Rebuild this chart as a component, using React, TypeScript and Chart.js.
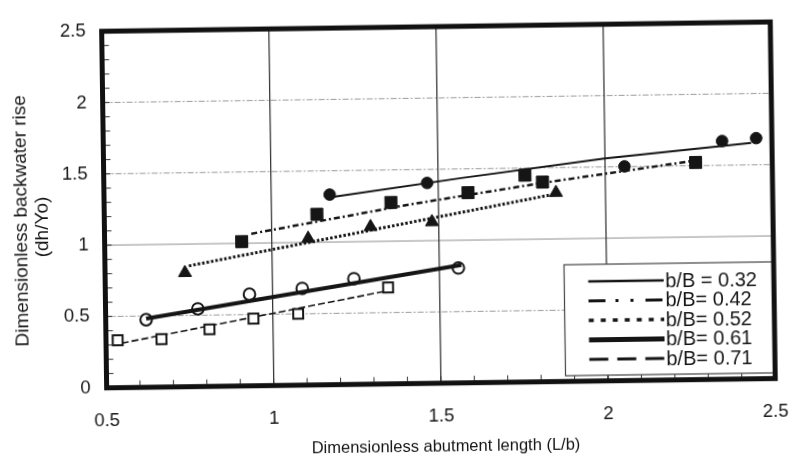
import React, { useEffect, useRef } from 'react';
import { Chart, registerables } from 'chart.js';

Chart.register(...registerables);

// ---- axis ticks & titles ----
const xTickValues = [0.5, 1, 1.5, 2, 2.5];
const xTickLabels = ['0.5', '1', '1.5', '2', '2.5'];
const yTickValues = [0, 0.5, 1, 1.5, 2, 2.5];
const yTickLabels = ['0', '0.5', '1', '1.5', '2', '2.5'];
const xGridValues = [1, 1.5, 2];
const yGridValues = [0.5, 1, 1.5, 2];
const xAxisTitle = 'Dimensionless abutment length (L/b)';
const yAxisTitle = ['Dimensionless backwater rise', '(dh/Yo)'];
const seriesLabels = ['b/B = 0.32', 'b/B= 0.42', 'b/B= 0.52', 'b/B= 0.61', 'b/B= 0.71'];

// ---- b/B = 0.32 (filled circles, solid line) ----
const x032 = [1.175, 1.467, 2.058, 2.351, 2.453];
const y032 = [1.333, 1.405, 1.502, 1.67, 1.687];
const fitX032 = [1.189, 1.569, 2.0, 2.438];
const fitY032 = [1.318, 1.436, 1.559, 1.654];

// ---- b/B = 0.42 (filled squares, dash-dot line) ----
const x042 = [0.91, 1.136, 1.358, 1.589, 1.76, 1.812, 2.271];
const y042 = [1.012, 1.196, 1.272, 1.333, 1.45, 1.4, 1.522];
const fitX042 = [0.939, 1.414, 1.812, 2.271];
const fitY042 = [1.066, 1.256, 1.394, 1.536];

// ---- b/B = 0.52 (filled triangles, dotted line) ----
const x052 = [0.739, 1.109, 1.296, 1.48, 1.852];
const y052 = [0.799, 1.027, 1.103, 1.131, 1.324];
const fitX052 = [0.751, 1.84];
const fitY052 = [0.847, 1.311];

// ---- b/B = 0.61 (open circles, thick solid line) ----
const x061 = [0.621, 0.776, 0.931, 1.089, 1.244, 1.557];
const y061 = [0.474, 0.545, 0.642, 0.678, 0.741, 0.806];
const fitX061 = [0.621, 1.566];
const fitY061 = [0.481, 0.827];

// ---- b/B = 0.71 (open squares, dashed line) ----
const x071 = [0.535, 0.666, 0.81, 0.942, 1.076, 1.346];
const y071 = [0.333, 0.336, 0.4, 0.471, 0.5, 0.676];
const fitX071 = [0.547, 1.337];
const fitY071 = [0.312, 0.65];

const FONT = '"Liberation Sans", Arial, Helvetica, sans-serif';
const INK = '#151515';

const seriesStyles = [
  { marker: 'circle', radius: 5.8, fill: INK, border: 1, lineWidth: 2, dash: [] as number[], legendDash: [] as number[], legendWidth: 2.5, lineOnTop: false },
  { marker: 'rect', radius: 8.5, fill: INK, border: 1, lineWidth: 2.5, dash: [6, 3, 2, 3], legendDash: [17, 10, 3, 12, 3, 12], legendWidth: 3, lineOnTop: false },
  { marker: 'triangle', radius: 7.5, fill: INK, border: 1, lineWidth: 3, dash: [2.5, 2], legendDash: [5, 7], legendWidth: 3.5, lineOnTop: false },
  { marker: 'circle', radius: 5.8, fill: '#fff', border: 2, lineWidth: 4, dash: [] as number[], legendDash: [] as number[], legendWidth: 5, lineOnTop: true },
  { marker: 'rect', radius: 7, fill: '#fff', border: 2, lineWidth: 1.6, dash: [7, 3], legendDash: [19, 9], legendWidth: 3, lineOnTop: false },
];

const seriesPoints = [
  [x032, y032, fitX032, fitY032],
  [x042, y042, fitX042, fitY042],
  [x052, y052, fitX052, fitY052],
  [x061, y061, fitX061, fitY061],
  [x071, y071, fitX071, fitY071],
];

const toXY = (xs: number[], ys: number[]) => xs.map((v, i) => ({ x: v, y: ys[i] }));

function buildDatasets() {
  const ds: any[] = [];
  seriesPoints.forEach(([xs, ys, fx, fy], i) => {
    const st = seriesStyles[i];
    ds.push({
      label: seriesLabels[i] + ' fit',
      data: toXY(fx, fy),
      showLine: true,
      borderColor: INK,
      borderWidth: st.lineWidth,
      borderDash: st.dash,
      pointRadius: 0,
      fill: false,
      tension: 0,
      order: st.lineOnTop ? -1 : 2,
    });
    ds.push({
      label: seriesLabels[i],
      data: toXY(xs, ys),
      showLine: false,
      pointStyle: st.marker,
      pointRadius: st.radius,
      pointBackgroundColor: st.fill,
      pointBorderColor: INK,
      pointBorderWidth: st.border,
      order: 0,
    });
  });
  return ds;
}

const decorPlugin = {
  id: 'decor',
  beforeDatasetsDraw(chart: any) {
    const { ctx, chartArea: a, scales } = chart;
    const xs = scales.x;
    const ys = scales.y;
    ctx.save();
    yGridValues.forEach((v) => {
      const py = ys.getPixelForValue(v);
      ctx.beginPath();
      ctx.strokeStyle = v === 1 ? '#909090' : '#9a9a9a';
      ctx.lineWidth = 1;
      ctx.setLineDash(v === 1 ? [] : [6, 2, 2, 2]);
      ctx.moveTo(a.left, py);
      ctx.lineTo(a.right, py);
      ctx.stroke();
    });
    ctx.setLineDash([]);
    xGridValues.forEach((v) => {
      const px = xs.getPixelForValue(v);
      ctx.beginPath();
      ctx.strokeStyle = '#2a2a2a';
      ctx.lineWidth = 1.2;
      ctx.moveTo(px, a.top);
      ctx.lineTo(px, a.bottom);
      ctx.stroke();
    });
    ctx.restore();
  },
  afterDatasetsDraw(chart: any) {
    const { ctx, chartArea: a, scales } = chart;
    const xs = scales.x;
    const ys = scales.y;
    ctx.save();
    ctx.strokeStyle = '#333';
    ctx.lineWidth = 1;
    ctx.setLineDash([]);
    for (let i = 1; i < 20; i++) {
      const px = xs.getPixelForValue(0.5 + i * 0.1);
      ctx.beginPath();
      ctx.moveTo(px, a.bottom - 2);
      ctx.lineTo(px, a.bottom - 7);
      ctx.stroke();
    }
    for (let i = 1; i < 25; i++) {
      const py = ys.getPixelForValue(i * 0.1);
      ctx.beginPath();
      ctx.moveTo(a.left + 2, py);
      ctx.lineTo(a.left + 7, py);
      ctx.stroke();
    }
    const lg = { left: 563.5, top: 267, right: a.right, bottom: 378 };
    ctx.fillStyle = '#fff';
    ctx.fillRect(lg.left, lg.top, lg.right - lg.left, lg.bottom - lg.top);
    ctx.strokeStyle = '#444';
    ctx.lineWidth = 1.2;
    ctx.strokeRect(lg.left, lg.top, lg.right - lg.left, lg.bottom - lg.top);
    ctx.font = `20px ${FONT}`;
    ctx.textAlign = 'left';
    ctx.textBaseline = 'middle';
    seriesLabels.forEach((lab, i) => {
      const st = seriesStyles[i];
      const ry = lg.top + 17 + i * 19.5;
      ctx.beginPath();
      ctx.strokeStyle = INK;
      ctx.lineWidth = st.legendWidth;
      ctx.setLineDash(st.legendDash);
      ctx.moveTo(587.5, ry);
      ctx.lineTo(663, ry);
      ctx.stroke();
      ctx.setLineDash([]);
      ctx.fillStyle = INK;
      ctx.fillText(lab, 664.5, ry + 1);
    });
    ctx.strokeStyle = '#111';
    ctx.lineWidth = 5;
    ctx.setLineDash([]);
    ctx.strokeRect(a.left, a.top, a.right - a.left, a.bottom - a.top);
    ctx.restore();
  },
  afterDraw(chart: any) {
    const { ctx } = chart;
    ctx.save();
    ctx.fillStyle = INK;
    ctx.textAlign = 'center';
    ctx.textBaseline = 'middle';
    ctx.font = `16.5px ${FONT}`;
    ctx.fillText(xAxisTitle, 443, 447.5);
    ctx.font = `19px ${FONT}`;
    const yPos = [
      [21.7, 215.5],
      [43.1, 222],
    ];
    yAxisTitle.forEach((t, i) => {
      ctx.save();
      ctx.translate(yPos[i][0], yPos[i][1]);
      ctx.rotate(-Math.PI / 2);
      ctx.fillText(t, 0, 0);
      ctx.restore();
    });
    ctx.restore();
  },
};

export default function App() {
  const ref = useRef<HTMLCanvasElement | null>(null);
  useEffect(() => {
    if (!ref.current) return;
    const chart = new Chart(ref.current, {
      type: 'scatter',
      data: { datasets: buildDatasets() },
      options: {
        responsive: false,
        animation: false,
        devicePixelRatio: 1,
        layout: { padding: { top: 18.5, right: 18.5, left: 0, bottom: 0 } },
        plugins: { legend: { display: false }, tooltip: { enabled: false } },
        scales: {
          x: {
            type: 'linear',
            min: 0.5,
            max: 2.5,
            afterBuildTicks: (s: any) => {
              s.ticks = xTickValues.map((v) => ({ value: v }));
            },
            afterFit: (s: any) => {
              s.height = 79.3;
            },
            grid: { display: false, drawTicks: false },
            border: { display: false },
            ticks: {
              padding: 22,
              maxRotation: 0,
              autoSkip: false,
              color: INK,
              font: { family: FONT, size: 18.5 },
              callback: (v: any) => {
                const i = xTickValues.indexOf(Number(v));
                return i >= 0 ? xTickLabels[i] : '';
              },
            },
          },
          y: {
            type: 'linear',
            min: 0,
            max: 2.5,
            afterBuildTicks: (s: any) => {
              s.ticks = yTickValues.map((v) => ({ value: v }));
            },
            afterFit: (s: any) => {
              s.width = 104.5;
            },
            grid: { display: false, drawTicks: false },
            border: { display: false },
            ticks: {
              padding: 16,
              autoSkip: false,
              color: INK,
              font: { family: FONT, size: 18.5 },
              callback: (v: any) => {
                const i = yTickValues.indexOf(Number(v));
                return i >= 0 ? yTickLabels[i] : '';
              },
            },
          },
        },
      },
      plugins: [decorPlugin],
    } as any);
    return () => chart.destroy();
  }, []);
  return (
    <div
      style={{
        position: 'absolute',
        left: 0,
        top: 0,
        width: 808,
        height: 463,
        background: '#fff',
        transform: 'rotate(-0.8deg)',
        transformOrigin: '404px 231.5px',
      }}
    >
      <canvas ref={ref} width={808} height={463} style={{ width: 808, height: 463, display: 'block' }} />
    </div>
  );
}
